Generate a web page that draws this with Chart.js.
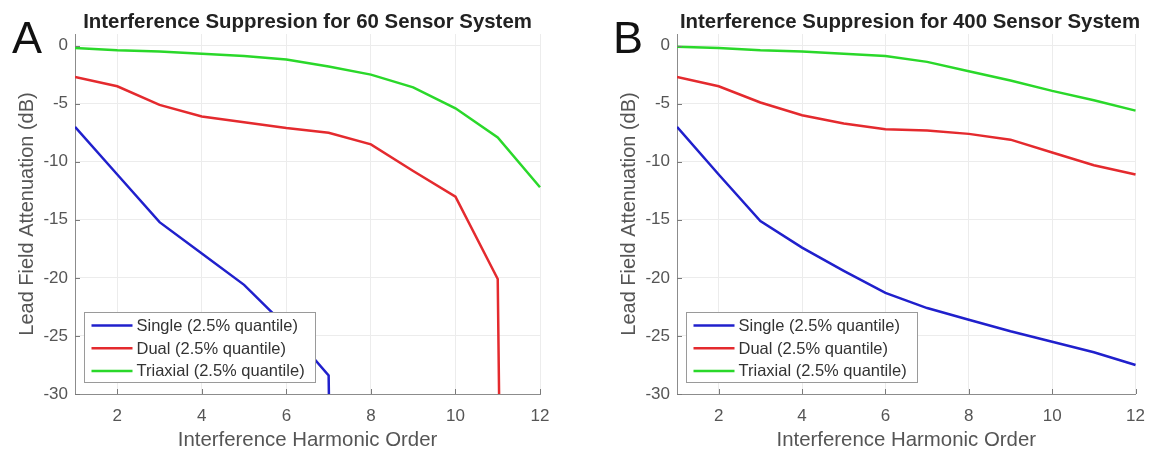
<!DOCTYPE html>
<html>
<head>
<meta charset="utf-8">
<script src="https://cdn.jsdelivr.net/npm/chart.js@4.4.1/dist/chart.umd.min.js"></script>
<style>
    body { margin: 0; background: #fff; font-family: "Liberation Sans", Arial, sans-serif; }
    #page { position: relative; width: 1157px; height: 453px; overflow: hidden; }
    canvas { position: absolute; top: 0; }
    .letter { position: absolute; top: 15px; font-size: 45px; line-height: 45px; color: #111; }
    .title { position: absolute; top: 9px; font-size: 20.4px; line-height: 24px; font-weight: bold; color: #222; text-align: center; white-space: nowrap; }
</style>
</head>
<body>
<div id="page">
    <canvas id="chartA" width="600" height="453" style="left:0px"></canvas>
    <canvas id="chartB" width="555" height="453" style="left:602px"></canvas>
    <div class="letter" style="left:12px">A</div>
    <div class="letter" style="left:613px">B</div>
    <div class="title" style="left:75px;width:465px">Interference Suppresion for 60 Sensor System</div>
    <div class="title" style="left:677px;width:466px">Interference Suppresion for 400 Sensor System</div>
</div>
<script>
// harmonic orders on the x axis
const harmonicOrder = [1, 2, 3, 4, 5, 6, 7, 8, 9, 10, 11, 12];
const xTicks = [2, 4, 6, 8, 10, 12];
const yTicks = [-30, -25, -20, -15, -10, -5, 0];

// 60 sensor system (values below -30 dB run off the bottom of the plot)
const single60 = [-7.0, -11.1, -15.2, -17.9, -20.6, -24.2, -28.4, -300, null, null, null, null];
const dual60 = [-2.7, -3.5, -5.1, -6.1, -6.6, -7.1, -7.5, -8.5, -10.8, -13.0, -20.1, -330];
const triaxial60 = [-0.2, -0.4, -0.5, -0.7, -0.9, -1.2, -1.8, -2.5, -3.6, -5.4, -7.9, -12.2];

// 400 sensor system
const single400 = [-7.0, -11.1, -15.1, -17.4, -19.4, -21.3, -22.6, -23.6, -24.6, -25.5, -26.4, -27.5];
const dual400 = [-2.7, -3.5, -4.9, -6.0, -6.7, -7.2, -7.3, -7.6, -8.1, -9.2, -10.3, -11.1];
const triaxial400 = [-0.1, -0.2, -0.4, -0.5, -0.7, -0.9, -1.4, -2.2, -3.0, -3.9, -4.7, -5.6];

const seriesNames = ['Single (2.5% quantile)', 'Dual (2.5% quantile)', 'Triaxial (2.5% quantile)'];
const seriesColors = ['#2020cc', '#e42a2e', '#2ad82a'];

const fontFamily = '"Liberation Sans", Arial, sans-serif';

// little inward tick marks like matlab draws them
const innerTicks = {
    id: 'innerTicks',
    afterDraw(chart) {
        const { ctx, chartArea: a, scales: { x, y } } = chart;
        ctx.save();
        ctx.strokeStyle = '#7a7a7a';
        ctx.lineWidth = 1;
        ctx.beginPath();
        xTicks.forEach(v => {
            const px = Math.round(x.getPixelForValue(v)) + 0.5;
            ctx.moveTo(px, a.bottom);
            ctx.lineTo(px, a.bottom - 5);
        });
        yTicks.forEach(v => {
            const py = Math.round(y.getPixelForValue(v)) + 0.5;
            ctx.moveTo(a.left, py);
            ctx.lineTo(a.left + 5, py);
        });
        ctx.stroke();
        ctx.restore();
    }
};

// legend box sitting inside the lower left of the plot
const boxLegend = {
    id: 'boxLegend',
    afterDatasetsDraw(chart) {
        const { ctx, chartArea: a } = chart;
        const ds = chart.data.datasets;
        ctx.save();
        ctx.font = '16.5px ' + fontFamily;
        const textW = Math.max(...ds.map(d => ctx.measureText(d.label).width));
        const w = Math.round(52 + textW + 11);
        const h = 70;
        const bx = Math.round(a.left + 9) + 0.5;
        const by = Math.round(a.bottom - 12 - h) + 0.5;
        ctx.fillStyle = '#fff';
        ctx.fillRect(bx, by, w, h);
        ctx.strokeStyle = '#9a9a9a';
        ctx.lineWidth = 1;
        ctx.strokeRect(bx, by, w, h);
        ds.forEach((d, i) => {
            const ly = by + 13 + i * 22.7;
            ctx.strokeStyle = d.borderColor;
            ctx.lineWidth = d.borderWidth;
            ctx.beginPath();
            ctx.moveTo(bx + 7, ly);
            ctx.lineTo(bx + 48, ly);
            ctx.stroke();
            ctx.fillStyle = '#333';
            ctx.textBaseline = 'middle';
            ctx.fillText(d.label, bx + 52, ly + 1);
        });
        ctx.restore();
    }
};

function makeChart(id, single, dual, triaxial, rightPad) {
    const values = [single, dual, triaxial];
    return new Chart(document.getElementById(id), {
        type: 'line',
        data: {
            labels: harmonicOrder,
            datasets: values.map((vals, i) => ({
                label: seriesNames[i],
                data: harmonicOrder.map((h, j) => ({ x: h, y: vals[j] })),
                borderColor: seriesColors[i],
                borderWidth: 2.5,
                pointRadius: 0,
                tension: 0,
                spanGaps: false,
                clip: { left: 0, top: 0, right: 3, bottom: 0 }
            }))
        },
        options: {
            responsive: false,
            animation: false,
            layout: { padding: { left: 0, right: rightPad, top: 34, bottom: 0 } },
            plugins: { legend: { display: false }, tooltip: { enabled: false } },
            scales: {
                x: {
                    type: 'linear',
                    min: 1,
                    max: 12,
                    afterBuildTicks: s => { s.ticks = xTicks.map(v => ({ value: v })); },
                    afterFit: s => { s.height = 59; },
                    grid: { color: '#ececec', drawTicks: false },
                    border: { color: '#8c8c8c' },
                    ticks: { color: '#555', font: { size: 17, family: fontFamily }, padding: 12, maxRotation: 0 },
                    title: { display: true, text: 'Interference Harmonic Order', color: '#555', font: { size: 20.4, family: fontFamily }, padding: 0 }
                },
                y: {
                    min: -30,
                    max: 1,
                    afterBuildTicks: s => { s.ticks = yTicks.map(v => ({ value: v })); },
                    afterFit: s => { s.width = 75; },
                    grid: { color: '#ececec', drawTicks: false },
                    border: { color: '#8c8c8c' },
                    ticks: { color: '#555', font: { size: 17, family: fontFamily }, padding: 7 },
                    title: { display: true, text: 'Lead Field Attenuation (dB)', color: '#555', font: { size: 20, family: fontFamily }, padding: { top: 15, bottom: 0 } }
                }
            }
        },
        plugins: [innerTicks, boxLegend]
    });
}

makeChart('chartA', single60, dual60, triaxial60, 60);
makeChart('chartB', single400, dual400, triaxial400, 14);
</script>
</body>
</html>
